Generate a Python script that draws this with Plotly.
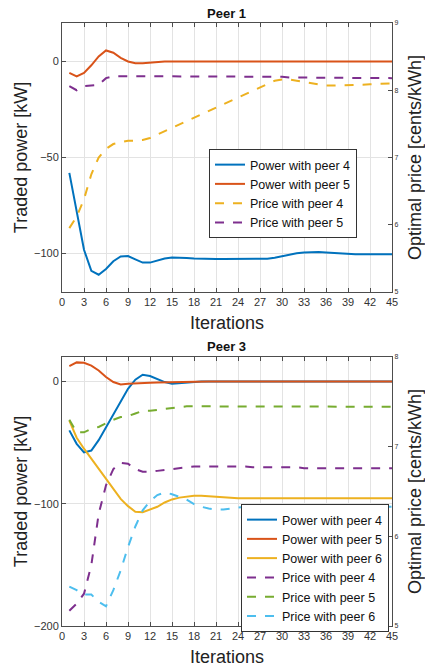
import plotly.graph_objects as go

iterations = list(range(1, 46))

# Peer 1
p1_power_peer4 = [-58, -78, -98, -109, -111, -108, -104, -101.5, -101.3, -103,
                  -104.7, -104.7, -103.5, -102.6, -102, -102, -102.3, -102.5, -102.7, -102.8,
                  -102.8, -102.8, -102.8, -102.8, -102.7, -102.7, -102.7, -102.7, -102.2, -101.3,
                  -100.5, -99.8, -99.4, -99.2, -99.2, -99.4, -99.7, -100, -100.2, -100.4,
                  -100.4, -100.4, -100.4, -100.4, -100.4]
p1_power_peer5 = [-6, -7.8, -6, -2, 2.6, 5.7, 4.5, 1.9, 0, -0.9,
                  -0.9, -0.5, -0.2, 0, 0, 0, 0, 0, 0, 0,
                  0, 0, 0, 0, 0, 0, 0, -0.1, -0.1, -0.1,
                  0, 0, 0, 0, 0, 0, 0, 0, 0, 0,
                  0, 0, 0, 0, 0]
p1_price_peer4 = [5.95, 6.12, 6.38, 6.75, 7.0, 7.13, 7.2, 7.23, 7.25, 7.25,
                  7.26, 7.29, 7.34, 7.40, 7.45, 7.50, 7.55, 7.60, 7.65, 7.70,
                  7.75, 7.80, 7.85, 7.90, 7.95, 8.00, 8.05, 8.10, 8.14, 8.16,
                  8.16, 8.14, 8.12, 8.10, 8.08, 8.07, 8.07, 8.07, 8.07, 8.08,
                  8.08, 8.09, 8.09, 8.10, 8.10]
p1_price_peer5 = [8.06, 8.0, 8.06, 8.07, 8.08, 8.18, 8.21, 8.21, 8.21, 8.2,
                  8.2, 8.2, 8.2, 8.2, 8.2, 8.2, 8.2, 8.2, 8.2, 8.2,
                  8.2, 8.2, 8.2, 8.2, 8.2, 8.2, 8.2, 8.2, 8.2, 8.2,
                  8.19, 8.19, 8.19, 8.19, 8.19, 8.19, 8.19, 8.18, 8.18, 8.18,
                  8.18, 8.18, 8.18, 8.18, 8.18]

# Peer 3
p3_power_peer4 = [-40, -51, -58, -56.5, -48, -37.5, -26.5, -15.6, -6, 1.4,
                  5.5, 4.4, 2.2, -0.5, -1.9, -1.4, -0.8, -0.3, 0, 0,
                  0, 0, 0, 0, 0, 0, 0, 0, 0, 0,
                  0, 0, 0, 0, 0, 0, 0, 0, 0, 0,
                  0, 0, 0, 0, 0]
p3_power_peer5 = [12.6, 15.6, 15.3, 13, 9, 3.6, -0.5, -2.5, -1.9, -1.4,
                  -1.1, -1.0, -0.9, -0.7, -0.5, -0.3, -0.2, -0.1, 0, 0,
                  0, 0, 0, 0, 0, 0, 0, 0, 0, 0,
                  0, 0, 0, 0, 0, 0, 0, 0, 0, 0,
                  0, 0, 0, 0, 0]
p3_power_peer6 = [-32, -46, -55, -63, -72, -80, -88, -96, -102, -106.5,
                  -107, -105, -102.5, -99, -96.5, -95, -94, -93.5, -93.5, -94,
                  -94.5, -95, -95.3, -95.5, -95.5, -95.5, -95.5, -95.5, -95.5, -95.5,
                  -95.5, -95.5, -95.5, -95.5, -95.5, -95.5, -95.5, -95.5, -95.5, -95.5,
                  -95.5, -95.5, -95.5, -95.5, -95.5]
p3_price_peer4 = [5.17, 5.25, 5.36, 5.68, 6.25, 6.57, 6.75, 6.82, 6.81, 6.75,
                  6.72, 6.72, 6.73, 6.74, 6.75, 6.76, 6.77, 6.78, 6.78, 6.78,
                  6.78, 6.78, 6.78, 6.78, 6.78, 6.77, 6.77, 6.77, 6.77, 6.77,
                  6.77, 6.77, 6.76, 6.76, 6.76, 6.76, 6.76, 6.76, 6.76, 6.76,
                  6.76, 6.76, 6.76, 6.76, 6.76]
p3_price_peer5 = [7.30, 7.16, 7.16, 7.20, 7.22, 7.26, 7.30, 7.33, 7.34, 7.37,
                  7.40, 7.40, 7.41, 7.42, 7.43, 7.44, 7.45, 7.45, 7.45, 7.45,
                  7.45, 7.45, 7.45, 7.45, 7.45, 7.445, 7.445, 7.445, 7.445, 7.445,
                  7.445, 7.445, 7.445, 7.445, 7.445, 7.445, 7.445, 7.445, 7.445, 7.445,
                  7.445, 7.445, 7.445, 7.445, 7.445]
p3_price_peer6 = [5.44, 5.40, 5.35, 5.35, 5.27, 5.22, 5.40, 5.62, 5.88, 6.11,
                  6.29, 6.39, 6.46, 6.49, 6.47, 6.44, 6.41, 6.36, 6.33, 6.31,
                  6.30, 6.30, 6.31, 6.32, 6.33, 6.33, 6.33, 6.33, 6.33, 6.33,
                  6.33, 6.33, 6.33, 6.33, 6.33, 6.33, 6.33, 6.33, 6.33, 6.33,
                  6.33, 6.33, 6.33, 6.33, 6.33]

x_ticks = list(range(0, 46, 3))

BLUE = "#0072BD"; RED = "#D95319"; YELLOW = "#EDB120"
PURPLE = "#7E2F8E"; GREEN = "#77AC30"; CYAN = "#4DBEEE"
FONT = "Liberation Sans, Arial, sans-serif"
AX = "#4d4d4d"
GRID = "#e3e3e3"
W = 425; H = 667

fig = go.Figure()

def add(x, y, name, color, dash, xa, ya, leg):
    fig.add_trace(go.Scatter(x=x, y=y, name=name, mode="lines",
                             line=dict(color=color, width=2, dash=dash),
                             xaxis=xa, yaxis=ya, legend=leg))

add(iterations, p1_power_peer4, "Power with peer 4", BLUE, "solid", "x", "y", "legend")
add(iterations, p1_power_peer5, "Power with peer 5", RED, "solid", "x", "y", "legend")
add(iterations, p1_price_peer4, "Price with peer 4", YELLOW, "dash", "x", "y2", "legend")
add(iterations, p1_price_peer5, "Price with peer 5", PURPLE, "dash", "x", "y2", "legend")

add(iterations, p3_power_peer4, "Power with peer 4", BLUE, "solid", "x2", "y3", "legend2")
add(iterations, p3_power_peer5, "Power with peer 5", RED, "solid", "x2", "y3", "legend2")
add(iterations, p3_power_peer6, "Power with peer 6", YELLOW, "solid", "x2", "y3", "legend2")
add(iterations, p3_price_peer4, "Price with peer 4", PURPLE, "dash", "x2", "y4", "legend2")
add(iterations, p3_price_peer5, "Price with peer 5", GREEN, "dash", "x2", "y4", "legend2")
add(iterations, p3_price_peer6, "Price with peer 6", CYAN, "dash", "x2", "y4", "legend2")

xdom = [62 / W, 392 / W]
top_dom = [1 - 292 / H, 1 - 23 / H]
bot_dom = [1 - 626 / H, 1 - 357 / H]

def xaxis(dom, anchor):
    return dict(domain=xdom, anchor=anchor, range=[0, 45], tickvals=x_ticks, automargin=False,
                ticks="inside", ticklen=4, tickcolor=AX, showline=True, linecolor=AX,
                linewidth=1, mirror="ticks", showgrid=True, gridcolor=GRID, zeroline=False,
                tickfont=dict(size=11, color="#333", family=FONT),
                title=dict(text="Iterations", font=dict(size=18, color="#222", family=FONT), standoff=9))

def yleft(dom, rng, tv, anchor):
    return dict(domain=dom, anchor=anchor, range=rng, tickvals=tv, ticks="inside", ticklen=4,
                automargin=False,
                tickcolor=AX, showline=True, linecolor=AX, linewidth=1, showgrid=True,
                gridcolor=GRID, zeroline=False, tickfont=dict(size=11, color="#333", family=FONT),
                title=dict(text="Traded power [kW]", font=dict(size=18, color="#222", family=FONT), standoff=1))

def yright(rng, tv, anchor, over):
    return dict(range=rng, tickvals=tv, overlaying=over, side="right", anchor=anchor,
                automargin=False,
                ticks="inside", ticklen=4, tickcolor=AX, showline=True, linecolor=AX,
                linewidth=1, showgrid=False, zeroline=False,
                tickfont=dict(size=7, color="#333", family=FONT),
                title=dict(text="Optimal price [cents/kWh]", font=dict(size=18, color="#222", family=FONT), standoff=10))

legend_common = dict(xanchor="right", yanchor="middle", bgcolor="white", bordercolor="#333",
                     borderwidth=1, font=dict(size=12.5, color="#111", family=FONT),
                     tracegroupgap=0, itemwidth=30)

fig.update_layout(
    width=W, height=H, margin=dict(l=0, r=0, t=0, b=0, autoexpand=False),
    paper_bgcolor="white", plot_bgcolor="white",
    font=dict(family=FONT, color="#222"),
    xaxis=xaxis(top_dom, "y"),
    yaxis=yleft(top_dom, [-120, 20], [-100, -50, 0], "x"),
    yaxis2=yright([5, 9], [5, 6, 7, 8, 9], "x", "y"),
    xaxis2=xaxis(bot_dom, "y3"),
    yaxis3=yleft(bot_dom, [-200, 20], [-200, -100, 0], "x2"),
    yaxis4=yright([5, 8], [5, 6, 7, 8], "x2", "y3"),
    legend=dict(x=357 / W, y=1 - 193.5 / H, **legend_common),
    legend2=dict(x=389 / W, y=1 - 568 / H, **legend_common),
    annotations=[
        dict(text="<b>Peer 1</b>", x=227 / W, y=1 - 13 / H, xref="paper", yref="paper",
             xanchor="center", yanchor="middle",
             showarrow=False, font=dict(size=13, color="#111", family=FONT)),
        dict(text="<b>Peer 3</b>", x=227 / W, y=1 - 346 / H, xref="paper", yref="paper",
             xanchor="center", yanchor="middle",
             showarrow=False, font=dict(size=13, color="#111", family=FONT)),
    ],
    showlegend=True,
)

fig.write_html("out.html", config={"displayModeBar": False},
               post_script="document.body.style.margin='0';document.body.style.padding='0';")
